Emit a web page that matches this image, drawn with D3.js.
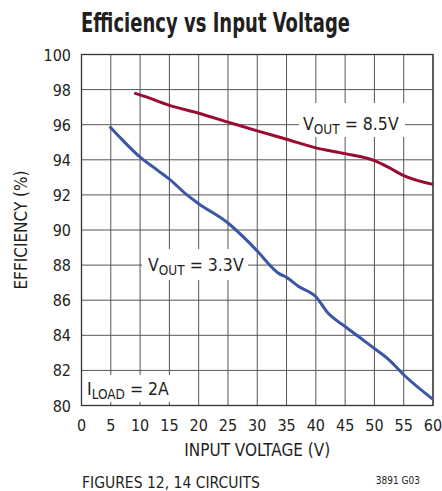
<!DOCTYPE html>
<html><head><meta charset="utf-8">
<script src="https://cdn.jsdelivr.net/npm/d3@7"></script>
<style>
body{margin:0;background:#fff}
svg{display:block}
text{font-family:"Liberation Sans Narrow","DejaVu Sans Condensed","Liberation Sans",Arial,sans-serif;fill:#231f20}
</style>
</head><body>
<script>
// ---- data ----
const xTicks = [0,5,10,15,20,25,30,35,40,45,50,55,60];
const yTicks = [80,82,84,86,88,90,92,94,96,98,100];
const vin85 = [9,10,15,20,25,30,35,40,45,50,52.5,55,60];
const eff85 = [97.8,97.7,97.1,96.65,96.15,95.65,95.17,94.68,94.35,93.95,93.55,93.1,92.6];
const vin33 = [4.8,6.5,10,13,15,18,20,25,28.7,30,33.8,35,37,40,42,45,48,50,52.5,55,60];
const eff33 = [95.9,95.3,94.15,93.4,92.9,92.0,91.5,90.4,89.25,88.8,87.5,87.3,86.8,86.2,85.3,84.5,83.75,83.25,82.6,81.75,80.35];
const title = "Efficiency vs Input Voltage";
const xTitle = "INPUT VOLTAGE (V)";
const yTitle = "EFFICIENCY (%)";
const footLeft = "FIGURES 12, 14 CIRCUITS";
const footRight = "3891 G03";

const W = 442, H = 491;
const L = 81.5, R = 433, T = 54.5, B = 405.5;
const svg = d3.select("body").append("svg").attr("width", W).attr("height", H);
const x = d3.scaleLinear().domain([0,60]).range([L,R]);
const y = d3.scaleLinear().domain([80,100]).range([B,T]);

// grid
const g = svg.append("g");
g.selectAll("line.v").data(xTicks).join("line")
  .attr("x1", d=>x(d)).attr("x2", d=>x(d)).attr("y1", T).attr("y2", B)
  .attr("stroke", "#555").attr("stroke-width", 1);
g.selectAll("line.h").data(yTicks).join("line")
  .attr("y1", d=>y(d)).attr("y2", d=>y(d)).attr("x1", L).attr("x2", R)
  .attr("stroke", "#555").attr("stroke-width", 1);
svg.append("rect").attr("x", L).attr("y", T).attr("width", R-L).attr("height", B-T)
  .attr("fill", "none").attr("stroke", "#333").attr("stroke-width", 1.3);

// label backgrounds
const boxes = [[299,103,106,34],[142,249,106,31],[83,375,108,27]];
svg.selectAll("rect.bg").data(boxes).join("rect")
  .attr("x", d=>d[0]).attr("y", d=>d[1]).attr("width", d=>d[2]).attr("height", d=>d[3])
  .attr("fill", "#fff");

// lines
const line = d3.line().x(d=>x(d[0])).y(d=>y(d[1])).curve(d3.curveMonotoneX);
svg.append("path").datum(vin85.map((v,i)=>[v,eff85[i]]))
  .attr("d", line).attr("fill","none").attr("stroke","#9a0b32").attr("stroke-width",3);
svg.append("path").datum(vin33.map((v,i)=>[v,eff33[i]]))
  .attr("d", line).attr("fill","none").attr("stroke","#3a56a5").attr("stroke-width",3);

// tick labels
svg.selectAll("text.xt").data(xTicks).join("text")
  .attr("x", d=>x(d)).attr("y", 431).attr("text-anchor","middle")
  .attr("font-size", 16).text(d=>d);
svg.selectAll("text.yt").data(yTicks).join("text")
  .attr("x", 71).attr("y", d=>y(d)+6).attr("text-anchor","end")
  .attr("font-size", 16).text(d=>d);

svg.append("text").attr("x", 81).attr("y", 32).attr("font-size", 26).attr("font-weight","bold")
  .attr("textLength", 269).attr("lengthAdjust","spacingAndGlyphs").text(title);
svg.append("text").attr("x", (L+R)/2).attr("y", 456).attr("text-anchor","middle")
  .attr("font-size", 17).text(xTitle);
svg.append("text").attr("transform", `translate(27,${(T+B)/2}) rotate(-90)`).attr("text-anchor","middle")
  .attr("font-size", 17).text(yTitle);
svg.append("text").attr("x", 82).attr("y", 488).attr("font-size", 15.5).text(footLeft);
svg.append("text").attr("x", 420).attr("y", 484).attr("text-anchor","end").attr("font-size", 10).text(footRight);

// series labels
function vlabel(xp, yp, val){
  const t = svg.append("text").attr("x", xp).attr("y", yp).attr("font-size", 17.5);
  t.append("tspan").text("V");
  t.append("tspan").attr("font-size", 13.5).attr("dy", 4).text("OUT");
  t.append("tspan").attr("dy", -4).text(" = " + val);
}
vlabel(303, 130, "8.5V");
vlabel(148, 271, "3.3V");
const il = svg.append("text").attr("x", 87).attr("y", 395).attr("font-size", 17.5);
il.append("tspan").text("I");
il.append("tspan").attr("font-size", 13.5).attr("dy", 4).text("LOAD");
il.append("tspan").attr("dy", -4).text(" = 2A");
</script>
</body></html>
